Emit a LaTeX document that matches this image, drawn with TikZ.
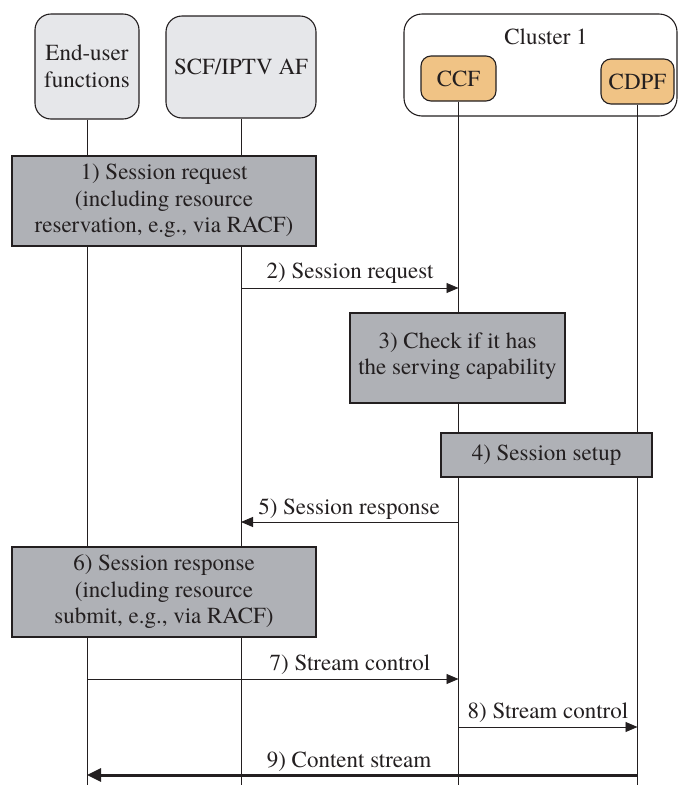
\documentclass[tikz,border=0pt]{standalone}
\usepackage{fontspec}
\setmainfont{TeX Gyre Termes}
\usetikzlibrary{arrows.meta,calc}
\definecolor{txt}{HTML}{231F20}
\definecolor{headfill}{HTML}{E6E7EA}
\definecolor{stepfill}{HTML}{AFB1B6}
\definecolor{orangefill}{HTML}{F0C385}
\begin{document}
\begin{tikzpicture}[x=1pt,y=-1pt,
  every node/.style={text=txt,font=\fontsize{23}{26.5}\selectfont,align=center,inner sep=0pt},
  head/.style={draw=txt,line width=1.1pt,fill=headfill,rounded corners=16pt},
  comp/.style={draw=txt,line width=1.1pt,fill=orangefill,rounded corners=10pt},
  stepbox/.style={draw=txt,line width=1.1pt,fill=stepfill},
  life/.style={draw=txt,line width=0.9pt},
  msg/.style={draw=txt,line width=0.9pt,-{Triangle[length=12pt,width=10pt]}},
  bigmsg/.style={draw=txt,line width=3pt,-{Triangle[length=14pt,width=13pt]}},
  lbl/.style={anchor=base}]
\useasboundingbox (0,0) rectangle (678,785);
% cluster
\draw[draw=txt,line width=1.1pt,fill=white,rounded corners=18pt] (404,14) rectangle (677,116);
\node (cl) at (546,37) {Cluster 1};
% heads
\node[head,minimum width=104pt,minimum height=105pt] (eu) at (87,66.5) {End-user\\functions};
\node[head,minimum width=150pt,minimum height=102pt] (scf) at (241,67) {SCF/IPTV AF};
\node[comp,minimum width=75pt,minimum height=45pt] (ccf) at (458.5,78.5) {CCF};
\node[comp,minimum width=73pt,minimum height=45pt] (cdpf) at (637.5,81.5) {CDPF};
% lifeline ends
\coordinate (euE) at (eu.south |- 0,785);
\coordinate (scfE) at (scf.south |- 0,785);
\coordinate (ccfE) at (ccf.south |- 0,785);
\coordinate (cdpfE) at (cdpf.south |- 0,785);
\draw[life] (eu.south) -- (euE);
\draw[life] (scf.south) -- (scfE);
\draw[life] (ccf.south) -- (ccfE);
\draw[life] (cdpf.south) -- (cdpfE);
% steps
\node[stepbox,minimum width=304pt,minimum height=90pt] (s1) at (164,201) {1) Session request\\(including resource\\reservation, e.g., via RACF)};
\coordinate (a2s) at (scf.south |- 0,288);
\coordinate (a2e) at (ccf.south |- 0,288);
\draw[msg] (a2s) -- (a2e);
\node[lbl] (l2) at (350,278) {2) Session request};
\node[stepbox,minimum width=215pt,minimum height=90pt] (s3) at (457.5,358) {};
\node (s3t) at (457.5,356) {3) Check if it has\\the serving capability};
\node[stepbox,minimum width=211pt,minimum height=44pt] (s4) at (546.5,455) {4) Session setup};
\coordinate (a5s) at (ccf.south |- 0,522);
\coordinate (a5e) at (scf.south |- 0,522);
\draw[msg] (a5s) -- (a5e);
\node[lbl] (l5) at (349,514) {5) Session response};
\node[stepbox,minimum width=304pt,minimum height=90pt] (s6) at (164,592) {6) Session response\\(including resource\\submit, e.g., via RACF)};
\coordinate (a7s) at (eu.south |- 0,679);
\coordinate (a7e) at (ccf.south |- 0,679);
\draw[msg] (a7s) -- (a7e);
\node[lbl] (l7) at (350,670) {7) Stream control};
\coordinate (a8s) at (ccf.south |- 0,727);
\coordinate (a8e) at (cdpf.south |- 0,727);
\draw[msg] (a8s) -- (a8e);
\node[lbl] (l8) at (548,718) {8) Stream control};
\coordinate (a9s) at (cdpf.south |- 0,775);
\coordinate (a9e) at (eu.south |- 0,775);
\draw[bigmsg] (a9s) -- (a9e);
\node[lbl] (l9) at (349,767) {9) Content stream};
\end{tikzpicture}
\end{document}
